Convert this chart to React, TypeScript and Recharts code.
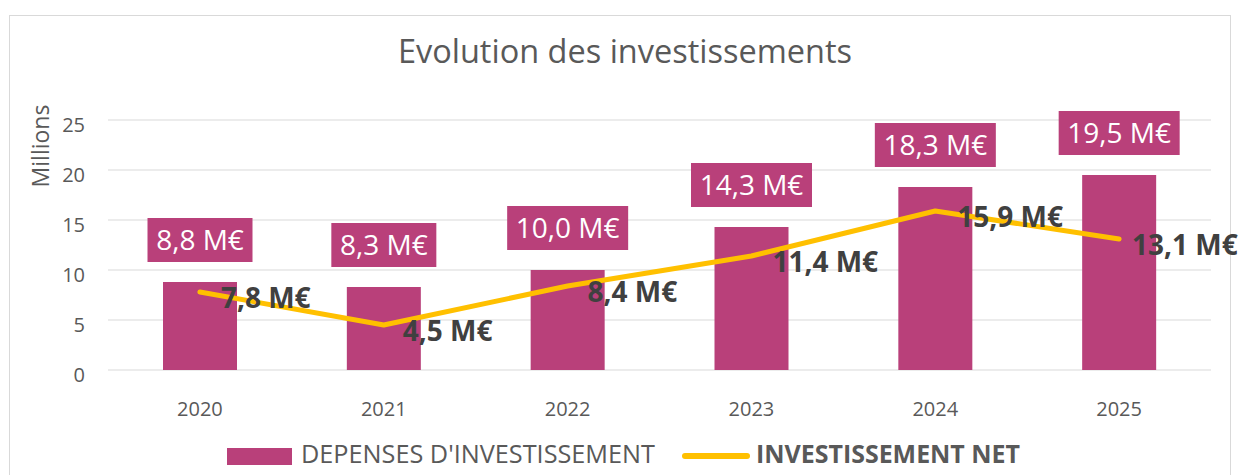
import React from 'react';
import { ComposedChart, Bar, Line, XAxis, YAxis, CartesianGrid, LabelList, Legend } from 'recharts';

const categories = ['2020', '2021', '2022', '2023', '2024', '2025'];
const depenses = [8.8, 8.3, 10.0, 14.3, 18.3, 19.5];
const investNet = [7.8, 4.5, 8.4, 11.4, 15.9, 13.1];
const yTicks = [0, 5, 10, 15, 20, 25];
const seriesNames = ["DEPENSES D'INVESTISSEMENT", 'INVESTISSEMENT NET'];

const netLabelDx = [21, 19, 20, 21, 22, 13];

const BAR_COLOR = '#B9407A';
const LINE_COLOR = '#FFC000';
const TEXT_GREY = '#595959';
const FONT = '"Open Sans", "Noto Sans", sans-serif';

const data = categories.map((c, i) => ({ year: c, dep: depenses[i], net: investNet[i] }));

const fmt = (v: number) => v.toFixed(1).replace('.', ',') + ' M€';

const BarBoxLabel = (props: any) => {
  const { x, y, width, value } = props;
  const txt = fmt(Number(value));
  const w = 105 + (txt.length - 6) * 16;
  const h = 44;
  const cx = x + width / 2;
  const bottom = y - 20;
  return (
    <g>
      <rect x={cx - w / 2} y={bottom - h} width={w} height={h} fill={BAR_COLOR} />
      <text x={cx} y={bottom - h / 2 + 10} textAnchor="middle" fill="#ffffff" fontSize={28} fontFamily={FONT}>
        {txt}
      </text>
    </g>
  );
};

const NetLabel = (props: any) => {
  const { x, y, value, index } = props;
  return (
    <text x={x + netLabelDx[index]} y={y + 15.5} textAnchor="start" fill="#404040" fontSize={28} fontWeight={700} fontFamily={FONT}>
      {fmt(Number(value))}
    </text>
  );
};

const YTick = (props: any) => {
  const { x, y, payload } = props;
  return (
    <text x={x} y={y + 11.5} textAnchor="end" fill={TEXT_GREY} fontSize={20} fontFamily={FONT}>
      {payload.value}
    </text>
  );
};

const XTick = (props: any) => {
  const { x, y, payload } = props;
  return (
    <text x={x} y={y + 30} textAnchor="middle" fill={TEXT_GREY} fontSize={20} fontFamily={FONT}>
      {payload.value}
    </text>
  );
};

const LegendContent = () => (
  <svg width={1239} height={45} style={{ display: 'block' }}>
    <rect x={227} y={18} width={65} height={17} fill={BAR_COLOR} />
    <text x={301} y={33} fontSize={25} fill={TEXT_GREY} fontFamily={FONT} textLength={354} lengthAdjust="spacingAndGlyphs">
      {seriesNames[0]}
    </text>
    <line x1={685} y1={26} x2={747} y2={26} stroke={LINE_COLOR} strokeWidth={6} strokeLinecap="round" />
    <text x={756} y={33} fontSize={25} fontWeight={700} fill={TEXT_GREY} fontFamily={FONT} textLength={264} lengthAdjust="spacingAndGlyphs">
      {seriesNames[1]}
    </text>
  </svg>
);

export default function App() {
  return (
    <div style={{ position: 'fixed', left: 0, top: 0, width: 1239, height: 475, overflow: 'hidden', background: '#ffffff' }}>
      <div style={{ position: 'absolute', left: 9, top: 15, width: 1222, height: 500, border: '1px solid #d9d9d9', boxSizing: 'border-box' }} />
      <div style={{ position: 'absolute', left: 0, top: 0 }}>
        <ComposedChart width={1239} height={475} data={data} margin={{ top: 120, right: 28, bottom: 0, left: 48 }}>
          <CartesianGrid vertical={false} stroke="#d9d9d9" strokeWidth={1} />
          <XAxis dataKey="year" axisLine={false} tickLine={false} tickSize={0} tickMargin={16} height={60} tick={<XTick />} interval={0} />
          <YAxis domain={[0, 25]} ticks={yTicks} axisLine={false} tickLine={false} tickSize={0} tickMargin={23} width={60} tick={<YTick />} interval={0} />
          <Legend verticalAlign="bottom" height={45} content={<LegendContent />} wrapperStyle={{ left: 0, width: 1239, height: 45 }} />
          <Bar dataKey="dep" name={seriesNames[0]} fill={BAR_COLOR} barSize={74} isAnimationActive={false}>
            <LabelList dataKey="dep" content={<BarBoxLabel />} />
          </Bar>
          <Line dataKey="net" name={seriesNames[1]} type="linear" stroke={LINE_COLOR} strokeWidth={5} dot={false} activeDot={false} strokeLinejoin="round" strokeLinecap="round" isAnimationActive={false}>
            <LabelList dataKey="net" content={<NetLabel />} />
          </Line>
        </ComposedChart>
      </div>
      <svg width={1239} height={475} style={{ position: 'absolute', left: 0, top: 0, pointerEvents: 'none' }}>
        <text x={625} y={63} textAnchor="middle" fill={TEXT_GREY} fontSize={32.5} fontFamily={FONT}>
          Evolution des investissements
        </text>
        <text x={49} y={146} textAnchor="middle" fill={TEXT_GREY} fontSize={23} fontFamily={FONT} transform="rotate(-90, 49, 146)">
          Millions
        </text>
      </svg>
    </div>
  );
}
